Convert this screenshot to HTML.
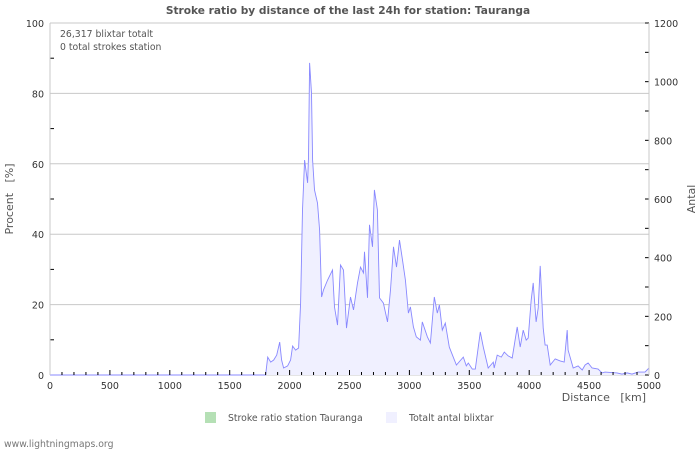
<!DOCTYPE html>
<html><head><meta charset="utf-8">
<style>
body{margin:0;background:#fff;width:700px;height:450px;overflow:hidden;font-family:"DejaVu Sans","Liberation Sans",sans-serif;}
svg text{font-family:"DejaVu Sans","Liberation Sans",sans-serif;}
</style></head>
<body>
<svg id="chart" width="700" height="450" xmlns="http://www.w3.org/2000/svg">
<text x="348" y="14" text-anchor="middle" font-size="10.6" font-weight="bold" fill="#555">Stroke ratio by distance of the last 24h for station: Tauranga</text>
<g id="grid"></g>
<g id="series"></g>
<g id="axes"></g>
<text x="60" y="37" font-size="9.3" fill="#555">26,317 blixtar totalt</text>
<text x="60" y="50" font-size="9.3" fill="#555">0 total strokes station</text>
<text transform="translate(13,199) rotate(-90)" text-anchor="middle" font-size="11" fill="#555" xml:space="preserve">Procent   [%]</text>
<text transform="translate(695,199) rotate(-90)" text-anchor="middle" font-size="11" fill="#555">Antal</text>
<text x="646" y="401" text-anchor="end" font-size="11" fill="#555" xml:space="preserve">Distance   [km]</text>
<rect x="205" y="412" width="11" height="11" fill="#b5e0b5"/>
<text x="228" y="421" font-size="9.3" fill="#555">Stroke ratio station Tauranga</text>
<rect x="386" y="412" width="11" height="11" fill="#f0f0ff"/>
<text x="409" y="421" font-size="9.3" fill="#555">Totalt antal blixtar</text>
<text x="4" y="447" font-size="9.3" fill="#777">www.lightningmaps.org</text>
</svg>
<script>
const distKm=[0,1790,1800,1817,1842,1867,1892,1917,1933,1950,1983,2008,2025,2050,2075,2092,2108,2125,2150,2158,2167,2183,2192,2208,2233,2250,2267,2283,2317,2358,2375,2400,2425,2450,2475,2508,2533,2567,2592,2617,2625,2650,2667,2692,2708,2733,2750,2783,2817,2842,2867,2892,2917,2942,2967,2992,3008,3033,3058,3092,3108,3150,3175,3208,3233,3250,3275,3300,3333,3392,3450,3475,3492,3525,3550,3592,3617,3658,3700,3708,3733,3767,3792,3825,3858,3900,3925,3950,3975,3992,4017,4033,4058,4075,4092,4117,4133,4150,4175,4217,4258,4292,4317,4325,4367,4408,4442,4467,4492,4525,4575,4608,4633,4733,4775,4817,4858,4908,4967,5000];
const strokeCounts=[0,0,0,61,44,51,68,112,51,24,31,51,99,85,92,245,563,733,655,743,1064,961,733,631,586,494,266,290,324,358,232,170,375,358,160,266,222,314,368,348,420,263,512,437,631,563,263,245,181,290,437,368,460,392,324,211,232,164,130,119,181,130,109,266,211,239,153,177,95,34,61,31,41,20,20,147,95,24,44,24,68,61,78,65,58,164,95,153,119,126,256,314,181,228,372,160,102,102,34,55,48,44,153,85,24,31,17,34,41,24,20,7,10,7,3,7,3,10,10,24];
const ratioTicks=[0,20,40,60,80,100];
const countTicks=[0,200,400,600,800,1000,1200];
const distTicks=[0,500,1000,1500,2000,2500,3000,3500,4000,4500,5000];

const NS="http://www.w3.org/2000/svg";
const L=50,R=649,T=23,B=375;
const xS=d=>L+(d/5000)*(R-L);
const yP=p=>B-(p/100)*(B-T);
const yC=c=>B-(c/1200)*(B-T);
function mk(tag,attrs,parent){const e=document.createElementNS(NS,tag);for(const k in attrs)e.setAttribute(k,attrs[k]);document.getElementById(parent).appendChild(e);return e;}

ratioTicks.forEach(p=>{
  const g=mk('line',{x1:L,x2:R,y1:yP(p),y2:yP(p),stroke:'#c8c8c8','stroke-width':1},'grid');
  
  
  const t=mk('text',{x:44,y:yP(p)+4,'text-anchor':'end','font-size':9.5,fill:'#333'},'axes');
  t.textContent=p;
  
  
});
for(let p=10;p<100;p+=20){
  const m=mk('line',{x1:L,x2:L+4,y1:yP(p),y2:yP(p),stroke:'#000'},'axes');
  
  
}
for(let c=0;c<=1200;c+=100){
  const m=mk('line',{x1:R-4,x2:R,y1:yC(c),y2:yC(c),stroke:'#000'},'axes');
  
  
}
countTicks.forEach(c=>{
  const t=mk('text',{x:654,y:yC(c)+4,'font-size':9.5,fill:'#333'},'axes');
  t.textContent=c;
  
  
});
for(let d=100;d<5000;d+=100){
  const major=d%500===0;
  const m=mk('line',{x1:xS(d),x2:xS(d),y1:B-(major?5:3),y2:B,stroke:'#000'},'axes');
  
  
}
distTicks.forEach(d=>{
  const t=mk('text',{x:xS(d),y:389,'text-anchor':'middle','font-size':9.5,fill:'#333'},'axes');
  t.textContent=d;
  
  
});
const lv=mk('line',{x1:L,x2:L,y1:T,y2:B,stroke:'#c8c8c8'},'axes');


const rv=mk('line',{x1:R,x2:R,y1:T,y2:B,stroke:'#c8c8c8'},'axes');



let pts=distKm.map((d,i)=>xS(d).toFixed(1)+','+yC(strokeCounts[i]).toFixed(1));
const area=mk('polygon',{points:xS(0)+','+B+' '+pts.join(' ')+' '+xS(5000)+','+B,fill:'#f0f0ff'},'series');


const line=mk('polyline',{points:pts.join(' '),fill:'none',stroke:'#8888ff','stroke-width':0.9},'series');


</script>
</body></html>
